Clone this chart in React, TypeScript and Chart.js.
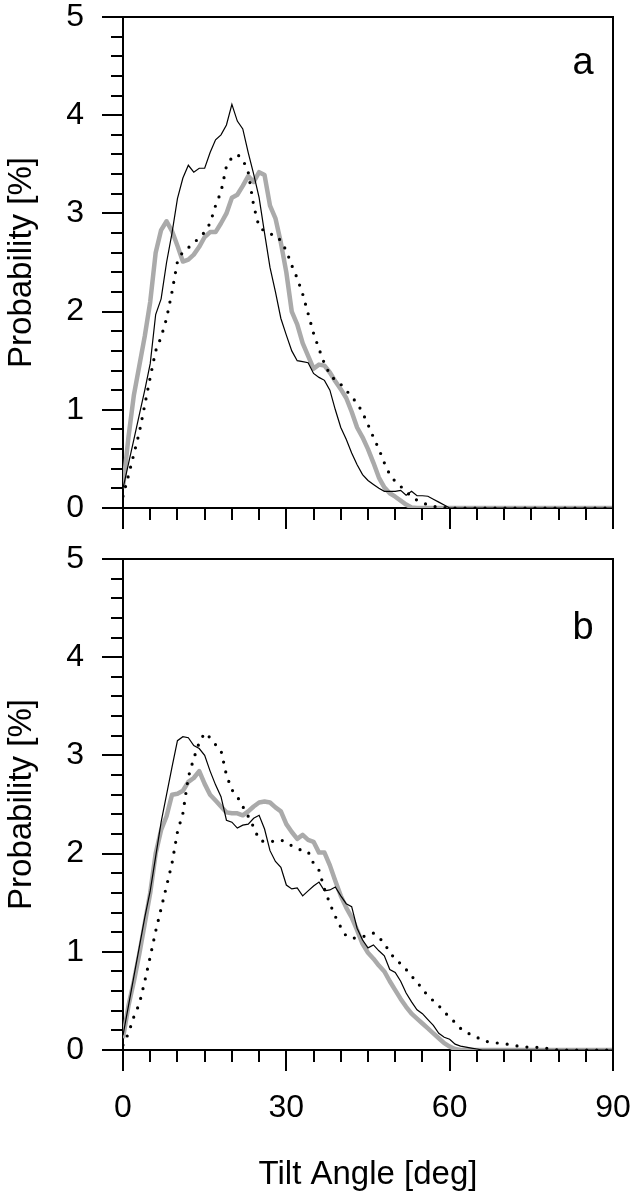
import React, { useEffect, useRef } from "react";
import { Chart, registerables } from "chart.js";

Chart.register(...registerables);

// Tilt angle bins (deg)
const angles: number[] = Array.from({ length: 91 }, (_, i) => i);

// Axis ticks
const xMajorTicks = [0, 30, 60, 90];
const xMinorTicks = [5, 10, 15, 20, 25, 35, 40, 45, 50, 55, 65, 70, 75, 80, 85];
const yMajorTicks = [0, 1, 2, 3, 4, 5];
const yMinorTicks = [0.2, 0.4, 0.6, 0.8, 1.2, 1.4, 1.6, 1.8, 2.2, 2.4, 2.6, 2.8, 3.2, 3.4, 3.6, 3.8, 4.2, 4.4, 4.6, 4.8];

// Panel a
const aThin = [
  0.2, 0.45, 0.7, 0.95, 1.2, 1.47, 1.97, 2.13, 2.5, 2.8,
  3.15, 3.36, 3.49, 3.42, 3.46, 3.46, 3.62, 3.75, 3.8, 3.9,
  4.11, 3.94, 3.86, 3.62, 3.4, 3.16, 2.8, 2.45, 2.2, 1.93,
  1.76, 1.6, 1.5, 1.49, 1.48, 1.37, 1.33, 1.3, 1.2, 1.0,
  0.82, 0.7, 0.56, 0.44, 0.34, 0.28, 0.24, 0.2, 0.17, 0.17,
  0.17, 0.18, 0.13, 0.17, 0.125, 0.125, 0.12, 0.09, 0.06, 0.03,
  0, 0, 0, 0, 0, 0, 0, 0, 0, 0,
  0, 0, 0, 0, 0, 0, 0, 0, 0, 0,
  0, 0, 0, 0, 0, 0, 0, 0, 0, 0,
  0,
];
const aGray = [
  0.2, 0.72, 1.15, 1.45, 1.75, 2.1, 2.6, 2.83, 2.92, 2.82,
  2.67, 2.51, 2.53, 2.58, 2.66, 2.76, 2.81, 2.81, 2.9, 3.0,
  3.16, 3.19, 3.28, 3.38, 3.32, 3.42, 3.39, 3.08, 2.95, 2.7,
  2.4, 2.0, 1.87, 1.68, 1.55, 1.42, 1.46, 1.45, 1.38, 1.29,
  1.21, 1.12, 0.98, 0.82, 0.72, 0.6, 0.46, 0.31, 0.21, 0.15,
  0.115, 0.075, 0.035, 0.005, 0, 0, 0, 0, 0, 0,
  0, 0, 0, 0, 0, 0, 0, 0, 0, 0,
  0, 0, 0, 0, 0, 0, 0, 0, 0, 0,
  0, 0, 0, 0, 0, 0, 0, 0, 0, 0,
  0,
];
const aDot = [
  0.12, 0.33, 0.55, 0.77, 1.05, 1.33, 1.6, 1.74, 1.93, 2.2,
  2.51, 2.61, 2.65, 2.7, 2.75, 2.81, 2.9, 3.08, 3.22, 3.48,
  3.57, 3.6, 3.55, 3.42, 3.08, 2.86, 2.82, 2.79, 2.78, 2.72,
  2.62, 2.47, 2.34, 2.18, 1.98, 1.78, 1.62, 1.47, 1.36, 1.3,
  1.26, 1.2, 1.13, 1.07, 0.97, 0.85, 0.72, 0.6, 0.46, 0.34,
  0.27, 0.22, 0.17, 0.11, 0.08, 0.05, 0.035, 0.015, 0.01, 0.005,
  0, 0, 0, 0, 0, 0, 0, 0, 0, 0,
  0, 0, 0, 0, 0, 0, 0, 0, 0, 0,
  0, 0, 0, 0, 0, 0, 0, 0, 0, 0,
  0,
];

// Panel b
const bThin = [
  0.15, 0.45, 0.75, 1.05, 1.35, 1.62, 1.97, 2.32, 2.6, 2.88,
  3.15, 3.19, 3.18, 3.1, 3.07, 3.0, 2.84, 2.7, 2.58, 2.34,
  2.32, 2.26, 2.29, 2.3, 2.36, 2.39, 2.25, 2.03, 1.92, 1.86,
  1.68, 1.64, 1.65, 1.57, 1.62, 1.67, 1.71, 1.62, 1.63, 1.66,
  1.57, 1.49, 1.46, 1.24, 1.12, 1.04, 1.07, 1.01, 0.96, 0.82,
  0.79, 0.7, 0.58, 0.49, 0.41, 0.37, 0.31, 0.25, 0.17, 0.13,
  0.11, 0.06, 0.04, 0.03, 0.02, 0.01, 0, 0, 0, 0,
  0, 0, 0, 0, 0, 0, 0, 0, 0, 0,
  0, 0, 0, 0, 0, 0, 0, 0, 0, 0,
  0,
];
const bGray = [
  0.12, 0.45, 0.7, 0.98, 1.29, 1.6, 2.0, 2.24, 2.38, 2.6,
  2.61, 2.64, 2.73, 2.77, 2.84, 2.71, 2.6, 2.54, 2.48, 2.42,
  2.41, 2.41, 2.39, 2.43, 2.48, 2.52, 2.53, 2.52, 2.47, 2.43,
  2.3, 2.22, 2.15, 2.19, 2.14, 2.12, 2.01, 2.01, 1.88, 1.72,
  1.57, 1.45, 1.35, 1.22, 1.08, 0.99, 0.93, 0.86, 0.8, 0.7,
  0.61, 0.52, 0.44, 0.37, 0.32, 0.27, 0.22, 0.17, 0.12, 0.07,
  0.035, 0.01, 0, 0, 0, 0, 0, 0, 0, 0,
  0, 0, 0, 0, 0, 0, 0, 0, 0, 0,
  0, 0, 0, 0, 0, 0, 0, 0, 0, 0,
  0,
];
const bDot = [
  0.05, 0.17, 0.34, 0.47, 0.7, 0.95, 1.21, 1.44, 1.67, 1.9,
  2.22, 2.41, 2.78, 2.97, 3.13, 3.23, 3.18, 3.11, 3.05, 2.8,
  2.65, 2.58, 2.48, 2.38, 2.27, 2.14, 2.12, 2.12, 2.13, 2.14,
  2.11, 2.08, 2.05, 2.03, 2.02, 1.9, 1.83, 1.64, 1.49, 1.36,
  1.25, 1.16, 1.14, 1.14, 1.15, 1.18, 1.19, 1.15, 1.08, 1.0,
  0.92, 0.88, 0.82, 0.75, 0.7, 0.61, 0.56, 0.5, 0.45, 0.39,
  0.33, 0.28, 0.22, 0.18, 0.155, 0.13, 0.1, 0.085, 0.075, 0.07,
  0.065, 0.055, 0.045, 0.036, 0.03, 0.027, 0.027, 0.027, 0.015, 0.005,
  0, 0, 0, 0, 0, 0, 0, 0, 0, 0,
  0,
];

const FONT = "'Liberation Sans', Arial, Helvetica, sans-serif";
const GRAY = "#aaaaaa";

const framePlugin = {
  id: "frame",
  afterDraw(chart: any, _args: any, opts: any) {
    const { ctx, chartArea, scales } = chart;
    const { left, right, top, bottom } = chartArea;
    const x = scales.x;
    const y = scales.y;
    ctx.save();
    ctx.strokeStyle = "#000";
    ctx.lineWidth = 2;
    ctx.lineCap = "butt";
    ctx.beginPath();
    ctx.moveTo(left - 1, top);
    ctx.lineTo(right, top);
    ctx.lineTo(right, bottom);
    ctx.stroke();
    ctx.beginPath();
    for (const v of yMinorTicks) {
      const py = Math.round(y.getPixelForValue(v));
      ctx.moveTo(left - 12, py);
      ctx.lineTo(left, py);
    }
    for (const d of xMinorTicks) {
      const px = Math.round(x.getPixelForValue(d));
      ctx.moveTo(px, bottom);
      ctx.lineTo(px, bottom + 12);
    }
    ctx.stroke();
    ctx.fillStyle = "#000";
    ctx.font = `38px ${FONT}`;
    ctx.textAlign = "center";
    ctx.textBaseline = "alphabetic";
    ctx.fillText(opts.label, right - 30, top + opts.labelDy);
    ctx.restore();
  },
};

function buildDatasets(thin: number[], gray: number[], dot: number[]) {
  const pts = (arr: number[]) => angles.map((a, i) => ({ x: a, y: arr[i] }));
  return [
    { data: pts(dot), borderColor: "#000", borderWidth: 3.2, borderDash: [0, 10], borderCapStyle: "round", pointRadius: 0, tension: 0, fill: false },
    { data: pts(thin), borderColor: "#000", borderWidth: 1.2, pointRadius: 0, tension: 0, fill: false },
    { data: pts(gray), borderColor: GRAY, borderWidth: 4.5, borderJoinStyle: "round", pointRadius: 0, tension: 0, fill: false },
  ];
}

function buildOptions(showX: boolean, xHeight: number, padTop: number, label: string, labelDy: number) {
  const gridOpts = () => ({
    display: true,
    drawOnChartArea: false,
    drawTicks: true,
    tickLength: 21,
    tickWidth: 2,
    tickColor: "#000",
    lineWidth: 2,
    color: "#000",
  });
  return {
    animation: false,
    responsive: false,
    devicePixelRatio: 1,
    layout: { autoPadding: false, padding: { top: padTop, right: 22, bottom: 0, left: 0 } },
    plugins: { legend: { display: false }, tooltip: { enabled: false }, frame: { label, labelDy } },
    scales: {
      x: {
        type: "linear",
        min: 0,
        max: 90,
        afterFit: (s: any) => {
          s.height = xHeight;
          s.paddingLeft = 0;
          s.paddingRight = 0;
        },
        afterBuildTicks: (s: any) => { s.ticks = xMajorTicks.map((v) => ({ value: v })); },
        ticks: { display: showX, padding: 21, color: "#000", maxRotation: 0, autoSkip: false, font: { family: FONT, size: 32, lineHeight: 1 } },
        grid: gridOpts(),
        border: { display: true, color: "#000", width: 2 },
        title: { display: showX, text: "Tilt Angle [deg]", color: "#000", font: { family: FONT, size: 33, lineHeight: 1.2 }, padding: { top: 0, bottom: 4 } },
      },
      y: {
        type: "linear",
        position: "left",
        min: 0,
        max: 5,
        afterFit: (s: any) => {
          s.width = 123;
          s.paddingTop = 0;
          s.paddingBottom = 0;
        },
        afterBuildTicks: (s: any) => { s.ticks = yMajorTicks.map((v) => ({ value: v })); },
        ticks: { padding: 18, color: "#000", font: { family: FONT, size: 32, lineHeight: 1 } },
        grid: gridOpts(),
        border: { display: true, color: "#000", width: 2 },
        title: { display: true, text: "Probability [%]", color: "#000", font: { family: FONT, size: 33, lineHeight: 1.2 }, padding: { top: 2, bottom: 0 } },
      },
    },
  };
}

function Panel(props: any) {
  const ref = useRef<HTMLCanvasElement | null>(null);
  useEffect(() => {
    if (!ref.current) return;
    const chart = new Chart(ref.current, {
      type: "line",
      data: { datasets: buildDatasets(props.thin, props.gray, props.dot) as any },
      options: buildOptions(props.showX, props.xHeight, props.padTop, props.label, props.labelDy) as any,
      plugins: [framePlugin as any],
    });
    return () => chart.destroy();
  }, []);
  return (
    <canvas
      ref={ref}
      width={635}
      height={props.height}
      style={{ position: "absolute", left: 0, top: props.top, width: 635, height: props.height, display: "block" }}
    />
  );
}

export default function App() {
  return (
    <div style={{ position: "absolute", left: 0, top: 0, width: 635, height: 1199, background: "#fff", overflow: "hidden" }}>
      <Panel top={0} height={540} thin={aThin} gray={aGray} dot={aDot} showX={false} xHeight={32} padTop={17} label="a" labelDy={57} />
      <Panel top={540} height={659} thin={bThin} gray={bGray} dot={bDot} showX={true} xHeight={149} padTop={19} label="b" labelDy={80} />
    </div>
  );
}
